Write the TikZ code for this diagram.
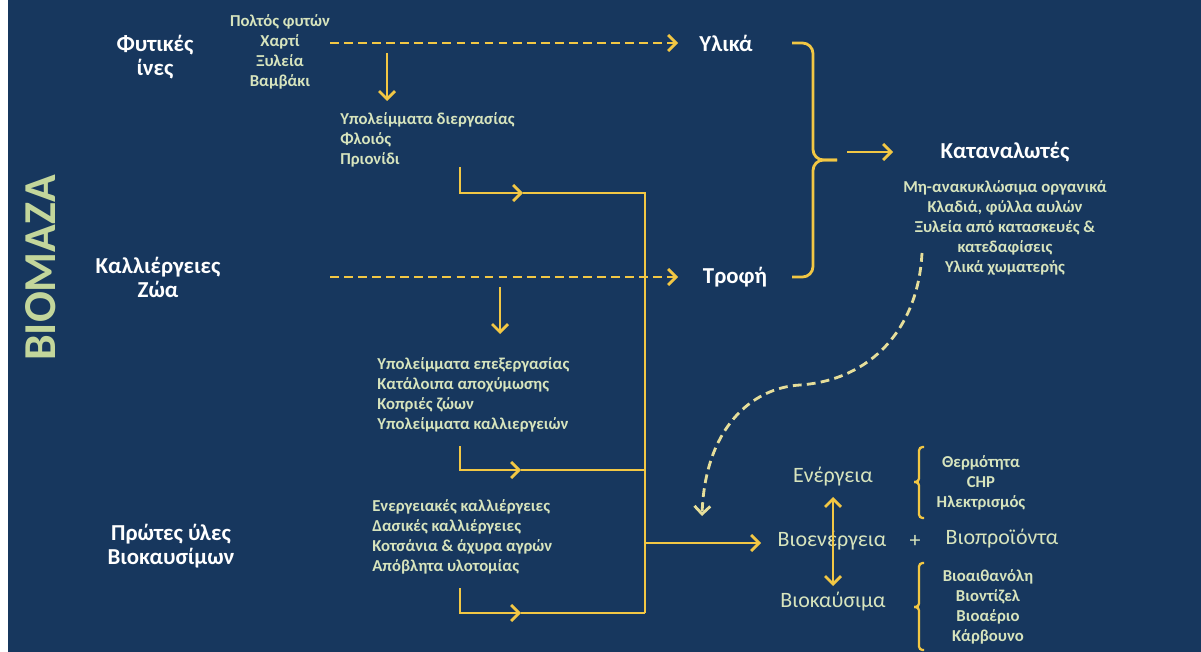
\documentclass[tikz,border=0pt]{standalone}
\usepackage{fontspec}
\setmainfont{Carlito}
\usetikzlibrary{arrows.meta}
\definecolor{bg}{HTML}{17375E}
\definecolor{gold}{HTML}{F2C744}
\definecolor{pale}{HTML}{D7E4BD}
\definecolor{bright}{HTML}{C3D69B}
\definecolor{curv}{HTML}{E6DE9A}
\begin{document}
\begin{tikzpicture}[x=0.02cm,y=-0.02cm,
  conn/.style={draw=gold, line width=1.6pt},
  tipped/.style={conn, -{Straight Barb[length=4.5pt,width=9pt]}},
  dtipped/.style={tipped, dash pattern=on 5pt off 3pt},
  bothtip/.style={conn, {Straight Barb[length=4.5pt,width=9pt]}-{Straight Barb[length=4.5pt,width=9pt]}},
  bracestyle/.style={conn, rounded corners=6pt},
  smallbrace/.style={conn, line width=1.3pt, rounded corners=2pt},
  head/.style={text=white, font=\bfseries\fontsize{13}{13.6}\selectfont, align=center, inner sep=0pt},
  lst/.style={text=pale, font=\bfseries\fontsize{9.5}{11.5}\selectfont, inner sep=0pt},
  big/.style={text=pale, font=\fontsize{12.5}{14}\selectfont, inner sep=0pt}
]
\useasboundingbox (0,0) rectangle (1201,652);
\fill[white] (0,0) rectangle (1201,652);
\fill[bg] (8,0) rectangle (1201,652);

% title
\node[rotate=90, text=bright, font=\bfseries\fontsize{26}{26}\selectfont, inner sep=0pt] (biomaza) at (41,268) {ΒΙΟΜΑΖΑ};

% left headers
\node[head] (fyt) at (155,57) {Φυτικές\\ίνες};
\node[head] (kal) at (158,277) {Καλλιέργειες\\Ζώα};
\node[head] (prot) at (171,546) {Πρώτες ύλες\\Βιοκαυσίμων};

% source lists
\node[lst, align=center] (src1) at (280,52) {Πολτός φυτών\\Χαρτί\\Ξυλεία\\Βαμβάκι};
\node[lst, align=left, anchor=west] (rem1) at (340,140) {Υπολείμματα διεργασίας\\Φλοιός\\Πριονίδι};
\node[lst, align=left, anchor=west] (rem2) at (377,395) {Υπολείμματα επεξεργασίας\\Κατάλοιπα αποχύμωσης\\Κοπριές ζώων\\Υπολείμματα καλλιεργειών};
\node[lst, align=left, anchor=west] (rem3) at (372,537) {Ενεργειακές καλλιέργειες\\Δασικές καλλιέργειες\\Κοτσάνια \& άχυρα αγρών\\Απόβλητα υλοτομίας};

% middle targets
\node[head] (ylika) at (726,43) {Υλικά};
\node[head] (trofi) at (735,277) {Τροφή};
\node[head] (katan) at (1005,152) {Καταναλωτές};
\node[lst, align=center] (katlist) at (1005,228) {Μη-ανακυκλώσιμα οργανικά\\Κλαδιά, φύλλα αυλών\\Ξυλεία από κατασκευές \&\\κατεδαφίσεις\\Υλικά χωματερής};

% bottom right
\node[big] (energeia) at (833,477) {Ενέργεια};
\node[big] (bioen) at (832,541) {Βιοενέργεια};
\node[big] (plus) at (915,541) {+};
\node[big] (bioprod) at (1002,539) {Βιοπροϊόντα};
\node[big] (biokaus) at (833,602) {Βιοκαύσιμα};
\node[lst, align=center] (enlist) at (981,483) {Θερμότητα\\CHP\\Ηλεκτρισμός};
\node[lst, align=center] (fuellist) at (988,607) {Βιοαιθανόλη\\Βιοντίζελ\\Βιοαέριο\\Κάρβουνο};

% coordinates
\coordinate (d1s) at (330,43);
\coordinate (d1e) at (678,43);
\coordinate (d2s) at (330,277);
\coordinate (d2e) at (678,277);
\coordinate (v1s) at (387,53);
\coordinate (v1e) at (387,101);
\coordinate (v2s) at (500,287);
\coordinate (v2e) at (500,334);
\coordinate (l1s) at (460,167);
\coordinate (l1m) at (523,193);
\coordinate (j1) at (645,193);
\coordinate (l2s) at (460,446);
\coordinate (l2m) at (521,470);
\coordinate (j2) at (645,470);
\coordinate (l3s) at (460,588);
\coordinate (l3m) at (521,613);
\coordinate (j3) at (645,613);
\coordinate (j4) at (645,543);
\coordinate (bioin) at (761,543);
\coordinate (bt) at (792,43);
\coordinate (btip) at (837,160);
\coordinate (bb) at (792,277);
\coordinate (ks) at (847,152);
\coordinate (ke) at (893,152);
\coordinate (cs) at (922,253);
\coordinate (cm) at (800,385);
\coordinate (ce) at (702,516);
\coordinate (ua) at (833,497);
\coordinate (da) at (833,586);

% dashed arrows
\draw[dtipped] (d1s) -- (d1e);
\draw[dtipped] (d2s) -- (d2e);
% down arrows
\draw[tipped] (v1s) -- (v1e);
\draw[tipped] (v2s) -- (v2e);
% L arrows and collector
\draw[tipped] (l1s) |- (l1m);
\draw[conn] (l1m) -- (j1) -- (j3);
\draw[tipped] (l2s) |- (l2m);
\draw[conn] (l2m) -- (j2);
\draw[tipped] (l3s) |- (l3m);
\draw[conn] (l3m) -- (j3);
\draw[tipped] (j4) -- (bioin);

% big brace
\draw[bracestyle] (bt) -- (813,43) -- (813,160) -- (btip);
\draw[bracestyle] (btip) -- (813,160) -- (813,277) -- (bb);
\draw[tipped] (ks) -- (ke);

% curved dashed
\draw[draw=curv, line width=1.6pt, dash pattern=on 5pt off 3pt, -{Straight Barb[length=4.5pt,width=9pt]}]
  (cs) .. controls (918,330) and (870,380) .. (cm) .. controls (750,388) and (705,430) .. (ce);

% double arrow
\draw[bothtip] (ua) -- (da);

% small braces
\draw[smallbrace] (924,447) -- (919,447) -- (919,482) -- (914,482);
\draw[smallbrace] (914,482) -- (919,482) -- (919,518) -- (924,518);
\draw[smallbrace] (924,563) -- (919,563) -- (919,607) -- (914,607);
\draw[smallbrace] (914,607) -- (919,607) -- (919,650) -- (924,650);
\end{tikzpicture}
\end{document}
